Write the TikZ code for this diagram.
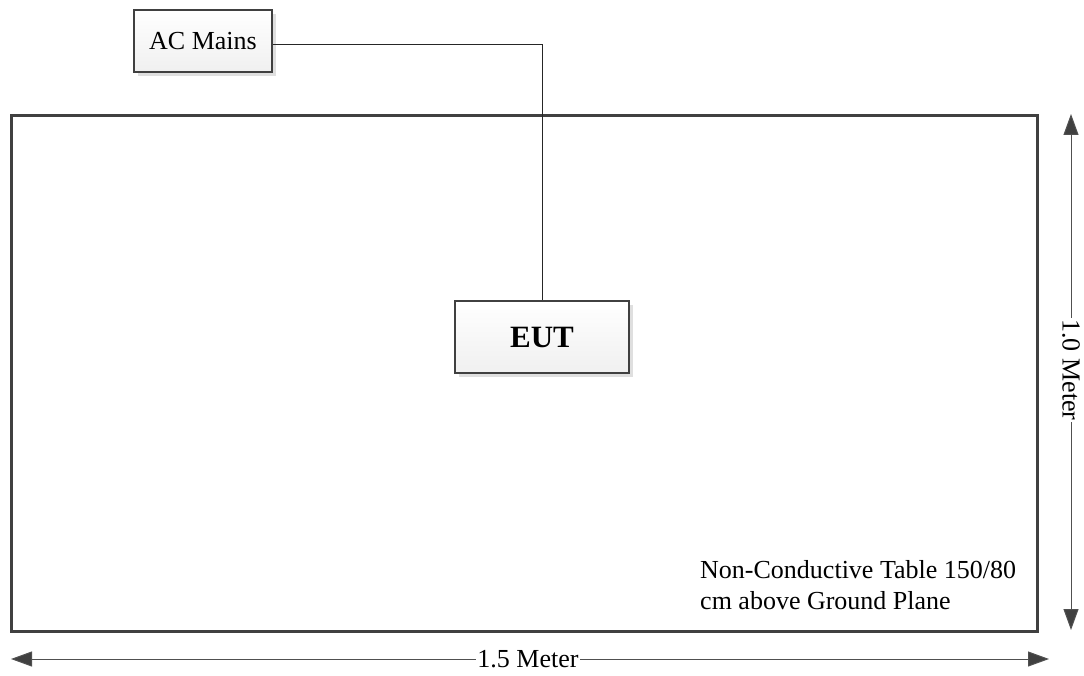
\documentclass[tikz,border=0pt]{standalone}
\usepackage{fontspec}
\setmainfont{Liberation Serif}
\usetikzlibrary{arrows.meta,shadows}
\definecolor{edge}{HTML}{404040}
\definecolor{dimc}{HTML}{505050}
\begin{document}
\begin{tikzpicture}[x=1pt,y=-1pt,
  box/.style={draw=edge, line width=2.8pt, top color=white, bottom color=gray!12,
    drop shadow={shadow xshift=4pt, shadow yshift=-4pt, fill=gray!25, opacity=1},
    inner sep=0pt, font=\fontsize{26}{30}\selectfont},
  wire/.style={line width=1pt, draw=black!85},
  tip/.tip={Triangle[length=21pt,width=15pt,fill=edge]},
  dimline/.style={line width=1pt, draw=dimc, tip-tip},
  dimlabel/.style={fill=white, inner sep=1pt, font=\fontsize{26}{30}\selectfont}
]
\useasboundingbox (0,0) rectangle (1084,676);
% table
\draw[draw=edge, line width=3pt] (11,116) rectangle (1037,631);
% boxes
\node[box, minimum width=138pt, minimum height=62pt] (ac) at (203,41) {AC Mains};
\node[box, minimum width=174pt, minimum height=72pt, font=\fontsize{31}{36}\selectfont\bfseries] (eut) at (542,337) {EUT};
% connector
\coordinate (acout) at (ac.east |- 0,45);
\draw[wire] (acout) -| (eut.north);
% dimension arrows
\coordinate (vt) at (1071,114);
\coordinate (vb) at (1071,630);
\draw[dimline] (vt) -- (vb);
\node[dimlabel, rotate=-90] (vlab) at (1071,370) {1.0 Meter};
\coordinate (hl) at (11,659);
\coordinate (hr) at (1049,659);
\draw[dimline] (hl) -- (hr);
\node[dimlabel] (hlab) at (528,659) {1.5 Meter};
% table note
\node[anchor=north west, inner sep=0pt, align=left, font=\fontsize{26}{31}\selectfont] (note) at (700,560)
  {Non-Conductive Table 150/80\\cm above Ground Plane};
\end{tikzpicture}
\end{document}
